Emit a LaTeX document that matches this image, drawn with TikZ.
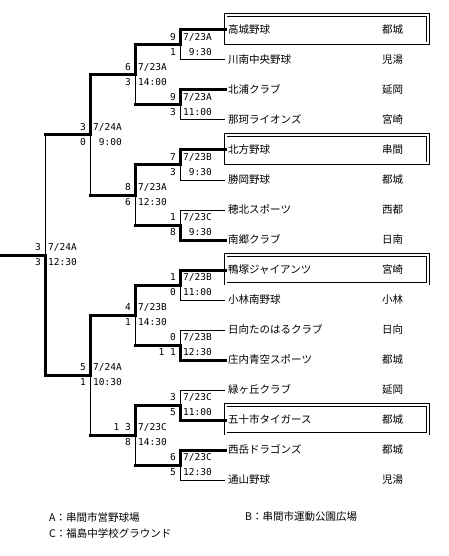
\documentclass[tikz,border=0pt]{standalone}
\usepackage{fontspec}
\newfontfamily\jp{Noto Sans CJK JP}
\newfontfamily\lab{DejaVu Sans Mono}
\newcommand\jpfont{\jp\fontsize{10.5}{12}\selectfont}
\newcommand\labfont{\lab\fontsize{9.5}{10}\selectfont}
\newcommand\pd{\hphantom{0}}
% match labels: #1 coordinate, #2 top score, #3 bottom score, #4 date, #5 time
\newcommand\mlab[5]{%
  \node[sc,anchor=base east] (#1s1) at ([xshift=-4pt,yshift=4.5pt]#1) {#2};
  \node[sc,anchor=base east] (#1s2) at ([xshift=-4pt,yshift=-10.5pt]#1) {#3};
  \node[sc,anchor=base west] (#1d) at ([xshift=3pt,yshift=4.5pt]#1) {#4};
  \node[sc,anchor=base west] (#1t) at ([xshift=3pt,yshift=-10.5pt]#1) {#5};
}
% team rows: #1 index, #2 y, #3 name, #4 region
\newcommand\team[4]{%
  \coordinate (t#1) at (225,#2);
  \node[tn] (n#1) at (228,#2+3.9) {#3};
  \node[tn] (r#1) at (382,#2+3.9) {#4};
}
\begin{document}
\begin{tikzpicture}[x=1pt,y=-1pt,
  win/.style={line width=3pt,line cap=rect,line join=miter},
  lose/.style={line width=1pt},
  dbl/.style={draw,line width=0.9pt,double distance=2pt},
  tn/.style={anchor=base west,inner sep=0pt,font=\jpfont},
  sc/.style={inner sep=0pt,font=\labfont},
  ft/.style={anchor=west,inner sep=0pt,font=\jpfont},
]
\useasboundingbox (0,0) rectangle (449,556);

% teams
\team{1}{30}{高城野球}{都城}
\team{2}{60}{川南中央野球}{児湯}
\team{3}{90}{北浦クラブ}{延岡}
\team{4}{120}{那珂ライオンズ}{宮崎}
\team{5}{150}{北方野球}{串間}
\team{6}{180}{勝岡野球}{都城}
\team{7}{210}{穂北スポーツ}{西都}
\team{8}{240}{南郷クラブ}{日南}
\team{9}{270}{鴨塚ジャイアンツ}{宮崎}
\team{10}{300}{小林南野球}{小林}
\team{11}{330}{日向たのはるクラブ}{日向}
\team{12}{360}{庄内青空スポーツ}{都城}
\team{13}{390}{緑ヶ丘クラブ}{延岡}
\team{14}{420}{五十市タイガース}{都城}
\team{15}{450}{西岳ドラゴンズ}{都城}
\team{16}{480}{通山野球}{児湯}

% double boxes around seeded teams
\foreach \y in {30,150,270,420}
  \draw[dbl] (225.5,\y-15) rectangle (428,\y+13.5);

% match points
\coordinate (a1) at (180,45);
\coordinate (a2) at (180,105);
\coordinate (a3) at (180,165);
\coordinate (a4) at (180,225);
\coordinate (a5) at (180,285);
\coordinate (a6) at (180,345);
\coordinate (a7) at (180,405);
\coordinate (a8) at (180,465);
\coordinate (b1) at (135,75);
\coordinate (b2) at (135,195);
\coordinate (b3) at (135,315);
\coordinate (b4) at (135,435);
\coordinate (c1) at (90,135);
\coordinate (c2) at (90,375);
\coordinate (f) at (45,255);
\coordinate (o) at (0,255);

% round 1
\draw[lose] (t2) -| (a1);
\draw[lose] (t4) -| (a2);
\draw[lose] (t6) -| (a3);
\draw[lose] (t7) -| (a4);
\draw[lose] (t10) -| (a5);
\draw[lose] (t11) -| (a6);
\draw[lose] (t13) -| (a7);
\draw[lose] (t16) -| (a8);
\draw[win] (t1) -| (a1);
\draw[win] (t3) -| (a2);
\draw[win] (t5) -| (a3);
\draw[win] (t8) -| (a4);
\draw[win] (t9) -| (a5);
\draw[win] (t12) -| (a6);
\draw[win] (t14) -| (a7);
\draw[win] (t15) -| (a8);

% round 2
\draw[lose] (a2 -| b1) -- (b1);
\draw[lose] (a4 -| b2) -- (b2);
\draw[lose] (a6 -| b3) -- (b3);
\draw[lose] (a8 -| b4) -- (b4);
\draw[win] (a1) -| (b1);
\draw[win] (a2) -- (a2 -| b1);
\draw[win] (a3) -| (b2);
\draw[win] (a4) -- (a4 -| b2);
\draw[win] (a5) -| (b3);
\draw[win] (a6) -- (a6 -| b3);
\draw[win] (a7) -| (b4);
\draw[win] (a8) -- (a8 -| b4);

% round 3
\draw[lose] (b2 -| c1) -- (c1);
\draw[lose] (b4 -| c2) -- (c2);
\draw[win] (b1) -| (c1);
\draw[win] (b2) -- (b2 -| c1);
\draw[win] (b3) -| (c2);
\draw[win] (b4) -- (b4 -| c2);

% final
\draw[lose] (c1 -| f) -- (f);
\draw[win] (c1) -- (c1 -| f);
\draw[win] (c2) -| (f);
\draw[win] (f) -- (o);

% labels
\mlab{a1}{9}{1}{7/23A}{\pd9:30}
\mlab{a2}{9}{3}{7/23A}{11:00}
\mlab{a3}{7}{3}{7/23B}{\pd9:30}
\mlab{a4}{1}{8}{7/23C}{\pd9:30}
\mlab{a5}{1}{0}{7/23B}{11:00}
\mlab{a6}{0}{1\pd1}{7/23B}{12:30}
\mlab{a7}{3}{5}{7/23C}{11:00}
\mlab{a8}{6}{5}{7/23C}{12:30}
\mlab{b1}{6}{3}{7/23A}{14:00}
\mlab{b2}{8}{6}{7/23A}{12:30}
\mlab{b3}{4}{1}{7/23B}{14:30}
\mlab{b4}{1\pd3}{8}{7/23C}{14:30}
\mlab{c1}{3}{0}{7/24A}{\pd9:00}
\mlab{c2}{5}{1}{7/24A}{10:30}
\mlab{f}{3}{3}{7/24A}{12:30}

% legend
\node[ft] (la) at (49,517) {A：串間市営野球場};
\node[ft] (lb) at (245,517) {B：串間市運動公園広場};
\node[ft] (lc) at (49,533) {C：福島中学校グラウンド};
\end{tikzpicture}
\end{document}
